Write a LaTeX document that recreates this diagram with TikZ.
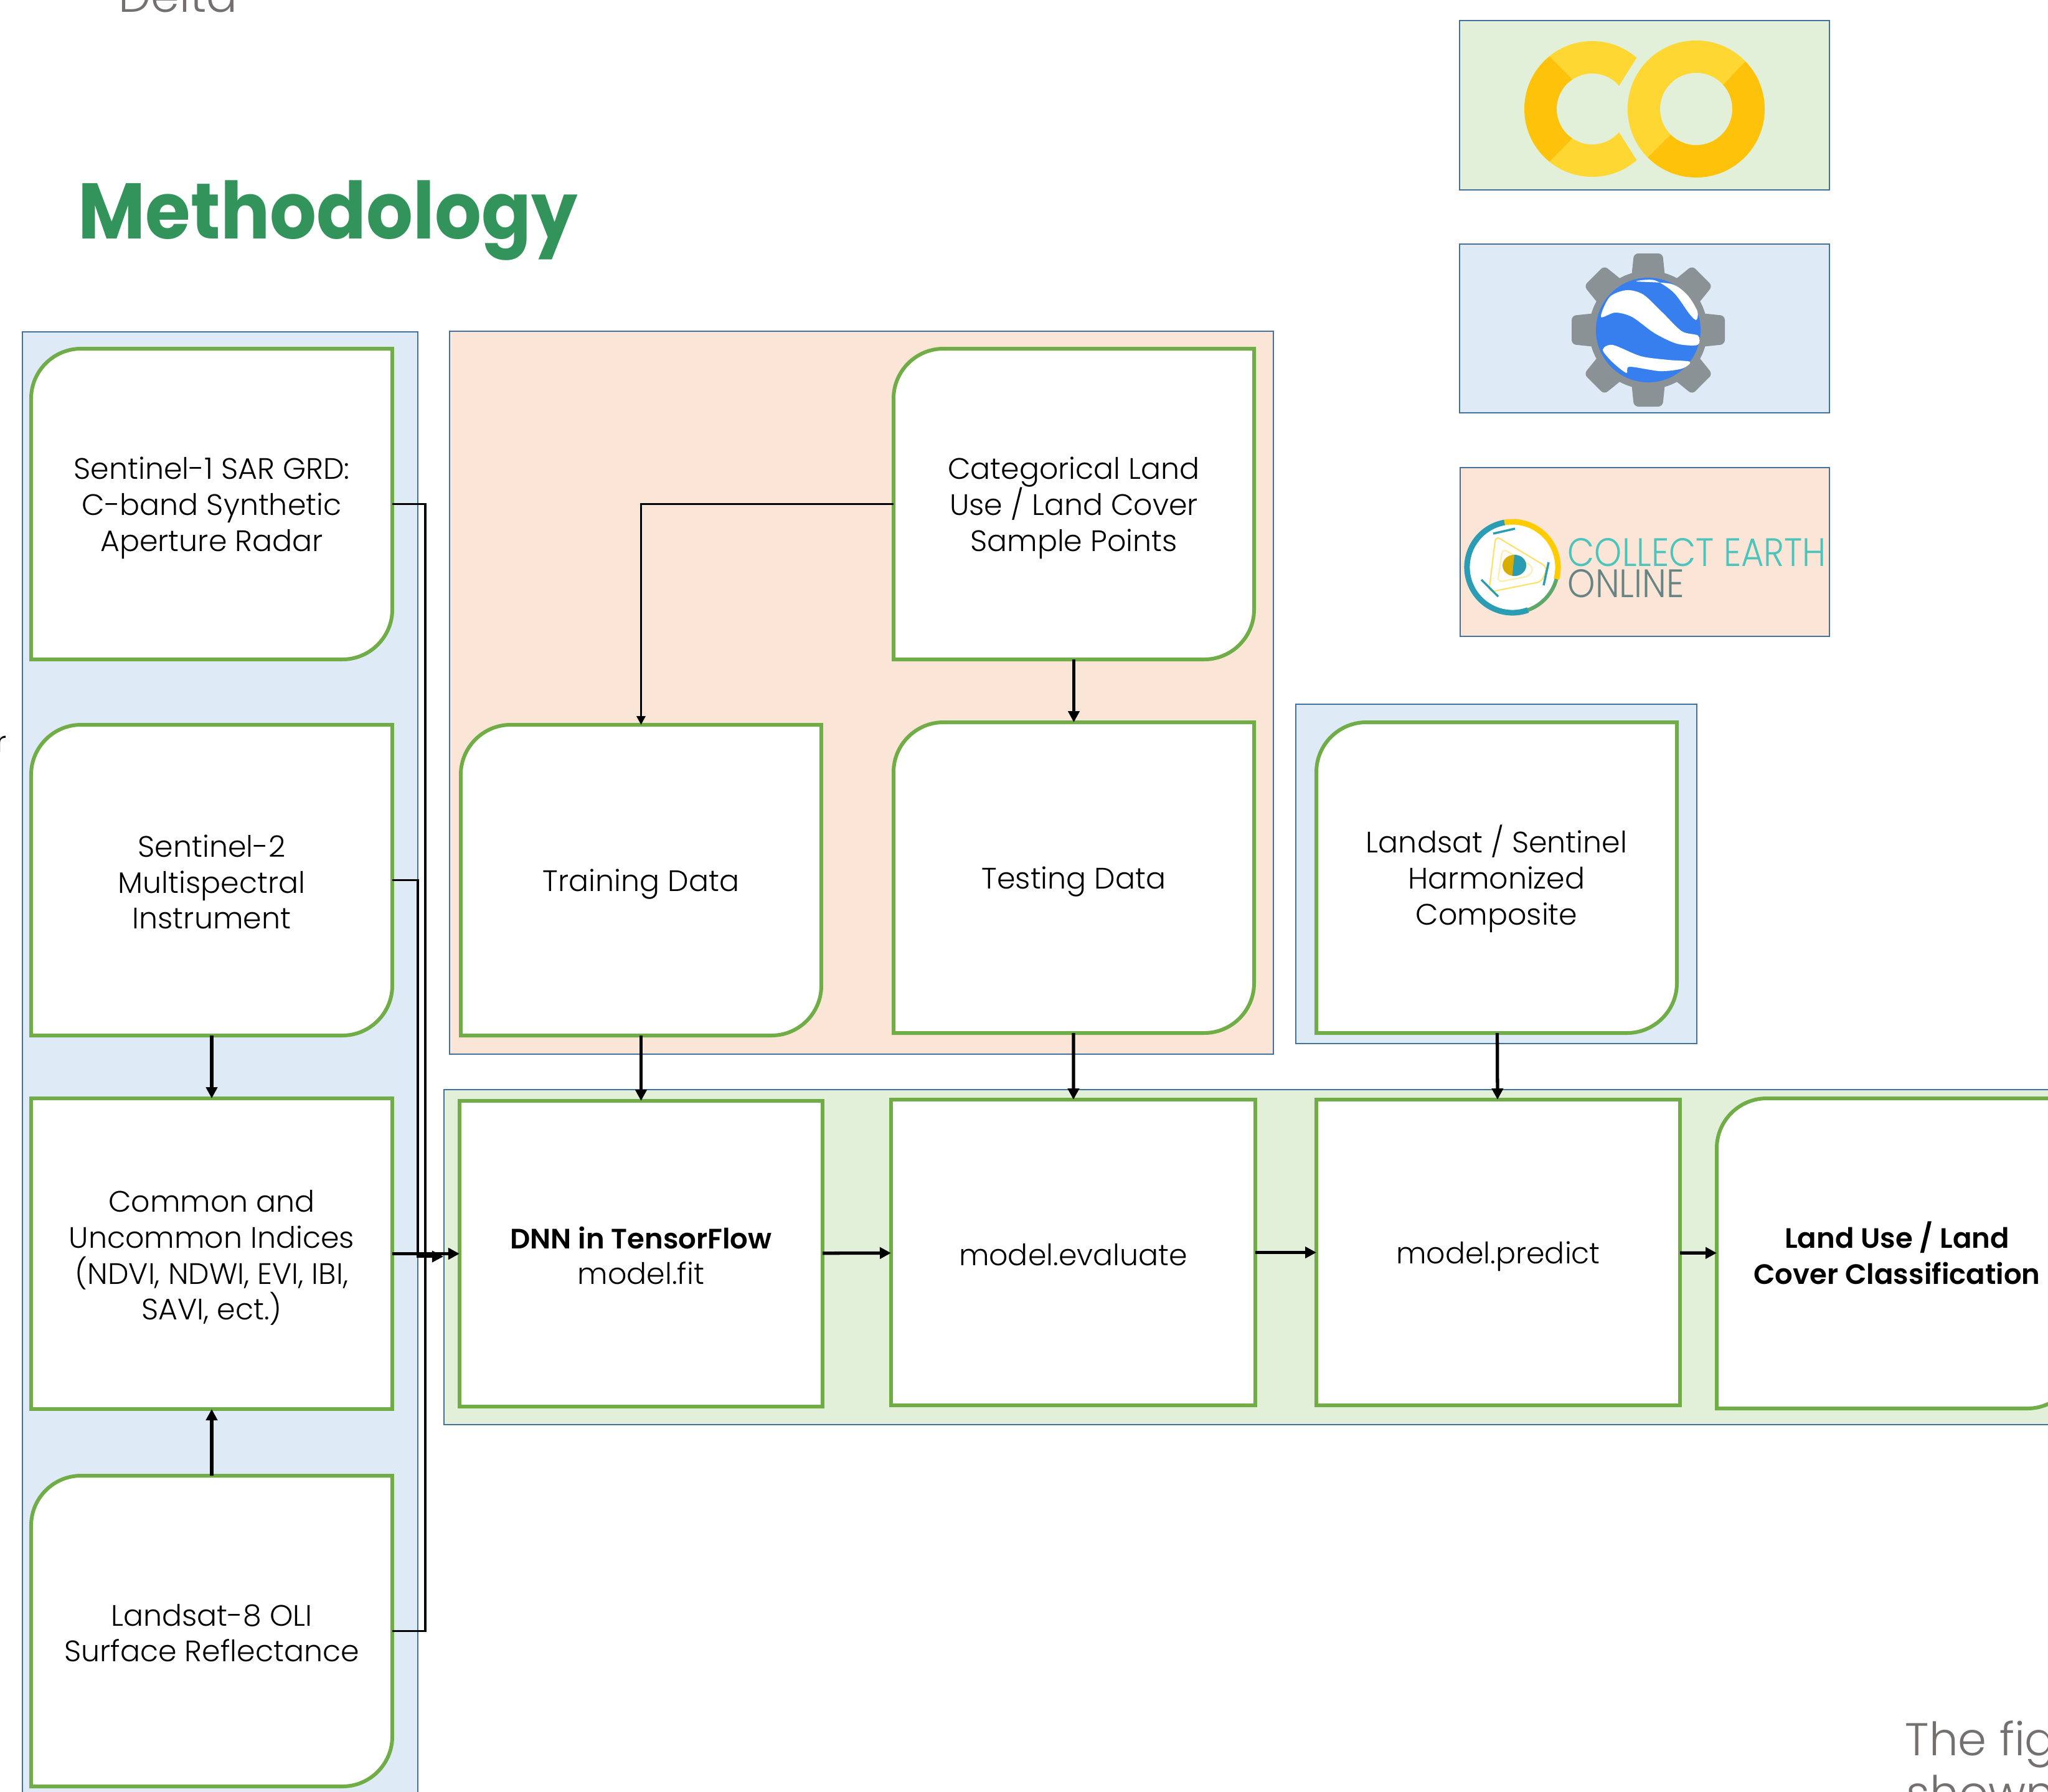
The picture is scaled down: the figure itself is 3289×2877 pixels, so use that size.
\documentclass[tikz,border=0pt]{standalone}
\usepackage{fontspec}
\setmainfont{Poppins}[UprightFont=* Light,BoldFont=* SemiBold]
\newfontfamily\titlefont{Poppins}[UprightFont=* Bold]
\usetikzlibrary{arrows.meta}
\definecolor{panelblue}{HTML}{DEEAF6}
\definecolor{panelpeach}{HTML}{FBE5D6}
\definecolor{panelgreen}{HTML}{E2F0D9}
\definecolor{panelline}{HTML}{41719C}
\definecolor{cellgreen}{HTML}{70AD47}
\definecolor{titlegreen}{HTML}{33945B}
\definecolor{fadetext}{HTML}{757070}
\definecolor{coldark}{HTML}{FFC20A}
\definecolor{collight}{HTML}{FFD733}
\definecolor{geargray}{HTML}{8A9296}
\definecolor{globeblue}{HTML}{377EEE}
\definecolor{ceoteal}{HTML}{2A9DB5}
\definecolor{ceoyellow}{HTML}{FFCC00}
\definecolor{ceolight}{HTML}{4CC4BB}
\definecolor{ceogray}{HTML}{668484}
\tikzset{
  panel/.style={draw=panelline,line width=0.7pt},
  cellline/.style={draw=cellgreen,fill=white,line width=1.7pt},
  celltext/.style={align=center,inner sep=0pt,outer sep=0pt,font=\fontsize{13.5}{16.4}\selectfont},
  wire/.style={line width=1.05pt},
  arrowline/.style={line width=1.5pt,-{Triangle[length=0.18cm,width=0.18cm]}},
  fadeline/.style={text=fadetext,inner sep=0pt,anchor=base west,font=\fontsize{21}{25}\selectfont},
}
\newcommand{\cellbold}[1]{{\fontsize{12.8}{16.4}\selectfont\textbf{#1}}}
\newcommand{\cellnode}[6]{
  \node[celltext,minimum width={(#4-#2)*0.01cm},minimum height={(#5-#3)*0.01cm}] (#1) at ({(#2+#4)/2},{(#3+#5)/2}) {\rule{0pt}{13.7pt}#6\rule[-2pt]{0pt}{2pt}};
}
\newcommand{\roundcell}[6]{
  \draw[cellline] (#2+80,#3) -- (#4,#3) -- (#4,#5-80)
    .. controls (#4,#5-36) and (#4-36,#5) .. (#4-80,#5) -- (#2,#5) -- (#2,#3+80)
    .. controls (#2,#3+36) and (#2+36,#3) .. (#2+80,#3) -- cycle;
  \cellnode{#1}{#2}{#3}{#4}{#5}{#6}
}
\newcommand{\sharpcell}[6]{
  \draw[cellline] (#2,#3) rectangle (#4,#5);
  \cellnode{#1}{#2}{#3}{#4}{#5}{#6}
}
\begin{document}
\begin{tikzpicture}[x=0.01cm,y=-0.01cm]
  \useasboundingbox (0,0) rectangle (3289,2877);
  % clipped texts
  \node[fadeline] (delta) at (190,19) {Delta};
  \node[fadeline] (thefig) at (3059,2819) {The fig};
  \node[fadeline] (shown) at (3061,2905) {shown};
  \node[anchor=base east,inner sep=0pt,font=\fontsize{13.5}{16.4}\selectfont] (cutr) at (11,1208) {r};
  \node[anchor=base west,inner sep=0pt,text=titlegreen,font=\titlefont\fontsize{36}{40}\selectfont] (title) at (125,383) {\scalebox{0.93}[1]{Methodology}};
  % panels
  \draw[panel,fill=panelblue] (36,533) rectangle (671,2950);
  \draw[panel,fill=panelpeach] (722,532) rectangle (2045,1693);
  \draw[panel,fill=panelblue] (2081,1131) rectangle (2725,1676);
  \draw[panel,fill=panelgreen] (713,1750) rectangle (3400,2288);
  \draw[panel,fill=panelgreen] (2344,33) rectangle (2938,305);
  \draw[panel,fill=panelblue] (2344,392) rectangle (2938,663);
  \draw[panel,fill=panelpeach] (2345,751) rectangle (2938,1022);
  % cells
  \roundcell{s1}{50}{560}{630}{1059}{Sentinel-1 SAR GRD:\\C-band Synthetic\\Aperture Radar}
  \roundcell{s2}{50}{1164}{630}{1663}{Sentinel-2\\Multispectral\\Instrument}
  \sharpcell{idx}{50}{1764}{630}{2263}{Common and\\Uncommon Indices\\(NDVI, NDWI, EVI, IBI,\\SAVI, ect.)}
  \roundcell{l8}{50}{2370}{630}{2869}{Landsat-8 OLI\\Surface Reflectance}
  \roundcell{cat}{1435}{560}{2014}{1059}{Categorical Land\\Use / Land Cover\\Sample Points}
  \roundcell{train}{740}{1164}{1319}{1663}{Training Data}
  \roundcell{test}{1435}{1160}{2014}{1659}{Testing Data}
  \roundcell{comp}{2114}{1160}{2693}{1659}{Landsat / Sentinel\\Harmonized\\Composite}
  \sharpcell{dnn}{738}{1768}{1321}{2259}{\cellbold{DNN in TensorFlow}\\model.fit}
  \sharpcell{eval}{1431}{1766}{2016}{2257}{model.evaluate}
  \sharpcell{pred}{2114}{1766}{2698}{2257}{model.predict}
  \roundcell{lulc}{2757}{1764}{3336}{2262}{\cellbold{Land Use / Land}\\\cellbold{Cover Classification}}
  % connectors
  \coordinate (busr) at (683,2013);
  \coordinate (busl) at (671,2018);
  \coordinate (stub) at (712,2018);
  \draw[wire] (s1.east) -- (s1.east -| busr) -- (l8.east -| busr) -- (l8.east);
  \draw[wire,-{Triangle[length=0.18cm,width=0.18cm]}] (s2.east) -| (busl) -- (stub);
  \draw[arrowline] (s2) -- (idx);
  \draw[arrowline] (l8) -- (idx);
  \draw[arrowline] (idx) -- (dnn);
  \draw[wire,-{Triangle[length=0.14cm,width=0.14cm]}] (cat.west) -| (train.north);
  \draw[arrowline] (cat) -- (test);
  \draw[arrowline] (train) -- (dnn);
  \draw[arrowline] (test) -- (eval);
  \draw[arrowline] (comp) -- (pred);
  \draw[arrowline] (dnn) -- (eval);
  \draw[arrowline] (eval) -- (pred);
  \draw[arrowline] (pred) -- (lulc);
  % colab logo
  \begin{scope}[shift={(2557,175)},x=0.01cm,y=0.01cm]
    \fill[collight] (49:109) arc (49:129:1.09cm) -- (124:57) arc (124:41:0.57cm) -- cycle;
    \fill[collight] (-49:109) arc (-49:-129:1.09cm) -- (-124:57) arc (-124:-41:0.57cm) -- cycle;
    \fill[coldark] (129:109) arc (129:231:1.09cm) -- (236:57) arc (236:124:0.57cm) -- cycle;
  \end{scope}
  \begin{scope}[shift={(2724,175)},x=0.01cm,y=0.01cm]
    \fill[collight] (44:110) arc (44:225:1.1cm) -- (225:58) arc (225:42:0.58cm) -- cycle;
    \fill[coldark] (44:110) arc (44:-135:1.1cm) -- (-135:58) arc (-135:42:0.58cm) -- cycle;
  \end{scope}
  % earth engine logo
  \begin{scope}[shift={(2647,530)},x=0.01cm,y=0.01cm]
    \fill[geargray] (0,0) circle (0.95cm);
    \foreach \a in {0,45,...,315}
      \fill[geargray,rounded corners=0.07cm,rotate=\a] (-27,85) -- (-23,123) -- (23,123) -- (27,85) -- cycle;
    \fill[globeblue] (0,0) circle (0.84cm);
    \fill[white] plot[smooth cycle,tension=0.5] coordinates {(-19,78) (10,80) (41,60) (66,26) (77,16) (79,30) (63,56) (37,74)};
    \fill[white] plot[smooth cycle,tension=0.5] coordinates {(-76,21) (-62,53) (-35,64) (-8,57) (23,28) (54,-2) (80,-9) (79,-24) (46,-22) (10,-5) (-26,21) (-53,28)};
    \fill[white] plot[smooth cycle,tension=0.5] coordinates {(-73,-32) (-57,-24) (-12,-42) (32,-48) (67,-51) (54,-62) (19,-66) (-30,-59) (-35,-69) (-57,-52)};
  \end{scope}
  % collect earth logo
  \begin{scope}[shift={(2429,911)},x=0.01cm,y=0.01cm]
    \fill[white] (0,0) circle (0.72cm);
    \draw[ceoteal,line width=0.09cm] (100:0.73cm) arc (100:290:0.73cm);
    \draw[ceoyellow,line width=0.09cm] (100:0.73cm) arc (100:-15:0.73cm);
    \draw[cellgreen!70!ceoteal,line width=0.06cm] (290:0.73cm) arc (290:345:0.73cm);
    \draw[ceoyellow!60!white,line width=0.6pt,rounded corners=0.08cm] (-27,50) -- (56,0) -- (47,-23) -- (-38,-40) -- cycle;
    \draw[ceoyellow!35!white,line width=0.6pt,rounded corners=0.08cm] (-16,30) -- (34,0) -- (28,-14) -- (-24,-24) -- cycle;
    \fill[ceoyellow!85!black] (3,3) ellipse (0.19cm and 0.17cm);
    \fill[ceoteal] (3,20) arc (90:-100:0.19cm and 0.17cm) -- cycle;
    \draw[ceoteal,line width=1pt] (-31,54) -- (4,62);
    \draw[ceoteal,line width=1pt] (58,8) -- (50,-29);
    \draw[ceoteal,line width=1pt] (-50,-20) -- (-23,-47);
  \end{scope}
  \node[anchor=north west,inner sep=0pt,text=ceolight] (ceotop) at (2517,864) {\resizebox{4.15cm}{0.45cm}{COLLECT EARTH}};
  \node[anchor=north west,inner sep=0pt,text=ceogray] (ceobot) at (2517,914) {\resizebox{1.87cm}{0.45cm}{ONLINE}};
\end{tikzpicture}
\end{document}
